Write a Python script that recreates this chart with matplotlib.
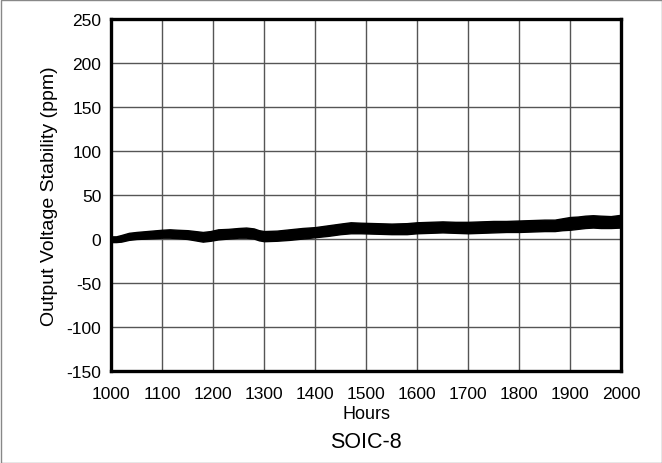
import matplotlib
matplotlib.use("Agg")
import matplotlib.pyplot as plt
from matplotlib.patches import Rectangle

plt.rcParams['font.family'] = ['Liberation Sans', 'DejaVu Sans']
plt.rcParams['axes.unicode_minus'] = False

hours = [1000, 1010, 1020, 1035, 1050, 1070, 1100, 1115, 1130, 1150, 1165, 1180,
         1195, 1210, 1230, 1250, 1265, 1280, 1290, 1300, 1325, 1350, 1375, 1400,
         1425, 1450, 1470, 1490, 1520, 1550, 1580, 1600, 1625, 1650, 1675, 1700,
         1725, 1750, 1775, 1800, 1825, 1850, 1870, 1885, 1900, 1915, 1930, 1945,
         1960, 1980, 2000]
upper = [3, 3, 4.5, 7, 8, 9, 10.5, 11, 10.5, 10, 9, 8,
         9, 11, 11.5, 12.5, 13, 12, 10, 9, 9.5, 11, 12.5, 13.5,
         15.5, 17.5, 19, 18.5, 18, 17.5, 18, 19, 19.5, 20, 19.5, 19.5,
         20, 20.5, 20.5, 21, 21.5, 22, 22, 23.5, 25, 25.5, 26.5, 27,
         26.5, 26, 27.5]
lower = [-3.5, -3.5, -3, -1, 0, 0.5, 1.5, 1.5, 1, 0, -1.5, -3,
         -2, -0.5, 0.5, 1.5, 1.5, 0.5, -1.5, -2.5, -2, -1, 0.5, 2,
         3.5, 5.5, 6.5, 6.5, 6, 5.5, 5.5, 6.5, 7, 7.5, 7, 6.5,
         7, 7.5, 8, 8, 8.5, 9, 9, 10, 10.5, 11.5, 12.5, 13,
         12.5, 12.5, 13]

xticks = [1000, 1100, 1200, 1300, 1400, 1500, 1600, 1700, 1800, 1900, 2000]
yticks = [-150, -100, -50, 0, 50, 100, 150, 200, 250]

fig = plt.figure(figsize=(6.62, 4.64), dpi=100)
L, R, T, B = 111, 621, 20, 372
ax = fig.add_axes([L/662, 1-B/464, (R-L)/662, (B-T)/464])

ax.fill_between(hours, lower, upper, color='black', linewidth=1.0, edgecolor='black', zorder=3)

ax.set_xlim(1000, 2000)
ax.set_ylim(-150, 250)
ax.set_xticks(xticks)
ax.set_yticks(yticks)
ax.tick_params(axis='both', length=0, labelsize=12.5)
ax.tick_params(axis='x', pad=10.5)
ax.tick_params(axis='y', pad=7)
ax.grid(True, color='#555555', linewidth=1.0)
ax.set_axisbelow(True)
for s in ax.spines.values():
    s.set_linewidth(2.4)
    s.set_color('black')
    s.set_zorder(5)

ax.set_xlabel('Hours', fontsize=13, labelpad=3)
ax.set_ylabel('Output Voltage Stability (ppm)', fontsize=14, labelpad=6)
fig.text((L+R)/2/662, 1-443/464, 'SOIC-8', ha='center', va='center', fontsize=15.5)

fig.patches.append(Rectangle((0.5/662, 0.5/464), 661/662, 463/464, transform=fig.transFigure,
                             fill=False, edgecolor='#888888', linewidth=1.0))

fig.savefig('out.png', dpi=100)
